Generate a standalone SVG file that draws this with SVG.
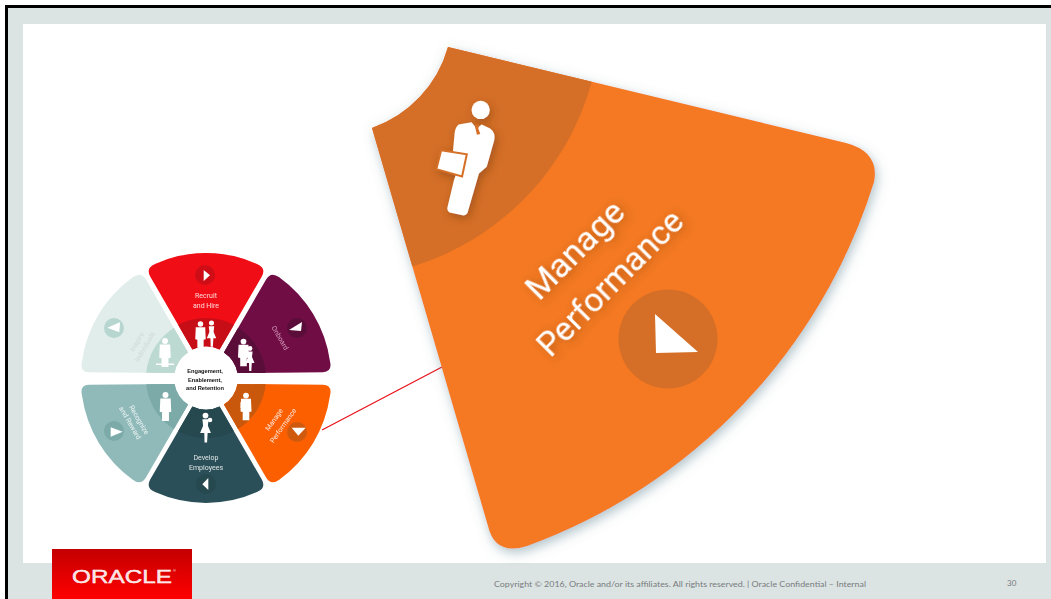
<svg xmlns="http://www.w3.org/2000/svg" width="1051" height="599" viewBox="0 0 1051 599">
<style>
.wt{font-family:Roboto,"Liberation Sans",sans-serif;fill:#fff;text-anchor:middle}
.sm{font-size:7px;fill-opacity:.85}
.ctr{font-family:"Liberation Sans",Arial,sans-serif;font-weight:700;font-size:5.7px;fill:#111;text-anchor:middle}
.big{font-size:34px;filter:url(#txs)}
.ft{font-family:Lato,"Liberation Sans",sans-serif;font-size:8px;fill:#777c7d}
.ic{fill:#fff}
</style>
<defs>
<linearGradient id="lg" x1="0" y1="0" x2="0" y2="1"><stop offset="0" stop-color="#c40000"/><stop offset="1" stop-color="#ff0000"/></linearGradient>
<filter id="sh" x="-10%" y="-10%" width="125%" height="125%"><feDropShadow dx="2" dy="4" stdDeviation="6" flood-color="#5f8592" flood-opacity=".5"/></filter>
<filter id="txs" x="-20%" y="-60%" width="140%" height="240%"><feDropShadow dx="2" dy="3" stdDeviation="4" flood-color="#7a3a08" flood-opacity=".5"/></filter>
<filter id="ics" x="-40%" y="-40%" width="190%" height="190%"><feDropShadow dx="2" dy="3" stdDeviation="5" flood-color="#6d3608" flood-opacity=".5"/></filter>
<filter id="soft" x="-5%" y="-5%" width="110%" height="110%"><feGaussianBlur stdDeviation=".55"/></filter>
<path id="w" d="M-13.600,-28.500 L-55.800,-101.600 Q-60.500,-110 -51,-114 A125 125 0 0 1 51,-114 Q60.500,-110 55.800,-101.600 L13.600,-28.500 A31.500 31.500 0 0 0 -13.600,-28.500Z"/>
<path id="ws" d="M-13.600,-28.500 L-55.800,-101.600 Q-60.500,-110 -51,-114 A125 125 0 0 1 47,-116 Q57.500,-113 53,-104.500 L11,-30 A31.500 31.500 0 0 0 -13.600,-28.500Z"/>
<clipPath id="wc"><use href="#w"/></clipPath>
<clipPath id="wsc"><use href="#ws"/></clipPath>
<g id="band"><circle r="60" clip-path="url(#wc)"/></g>
<g id="bands"><circle r="60" clip-path="url(#wsc)"/></g>
<g id="man" class="ic"><circle cy="-9.5" r="2.6"/><path d="M-4.5,-6.5 L4.5,-6.5 L5,5 L3,5.5 L3,13 L-3,13 L-3,5.5 L-5,5Z"/></g>
<g id="woman" class="ic"><circle cy="-9.5" r="2.4"/><path d="M-2.6,-6.5 L2.6,-6.5 L2,-1 L4.5,5 L1.8,5 L1.3,13 L-.8,13 L-1,5 L-4.5,5 L-2,-1Z"/></g>
<clipPath id="bigc"><path d="M448,47 L846,143 Q880,152 874,182 A567 567 0 0 1 527,546 Q495,556 488,526 L372,128 A120 120 0 0 0 448,47Z"/></clipPath>
</defs>
<g id="background">
<rect width="1051" height="599" fill="#fff"/>
<rect x="6" y="6" width="1045" height="593" fill="#dce3e3"/>
<path d="M6.500,599 V6.500 H1051" fill="none" stroke="#000" stroke-width="3"/>
<rect x="23" y="24" width="1023" height="539" fill="#fff"/>
</g>
<g id="connectors"><line x1="322" y1="430" x2="442" y2="367" stroke="#e8141c" stroke-width="1.300"/></g>
<g id="wheel" filter="url(#soft)">
<g id="seg-recruit" transform="translate(206,378)"><use href="#w" fill="#f00a12"/><use href="#band" fill="#c70d16"/></g>
<g id="seg-onboard" transform="translate(206,378.500) rotate(60)"><use href="#ws" fill="#6f0a45"/><use href="#bands" fill="#5a0a38"/></g>
<g id="seg-manage" transform="translate(206,378.500) rotate(120) scale(-1,1)"><use href="#ws" fill="#fb5f05"/><use href="#bands" fill="#c9590f"/></g>
<g id="seg-develop" transform="translate(206,378) rotate(180)"><use href="#w" fill="#2b5058"/><use href="#band" fill="#264850"/></g>
<g id="seg-recognize" transform="translate(206,378.500) rotate(240)"><use href="#ws" fill="#8fbab9"/><use href="#bands" fill="#7caaa9"/></g>
<g id="seg-inspire" transform="translate(206,378.500) rotate(300) scale(-1,1)"><use href="#ws" fill="#e0edea"/><use href="#bands" fill="#bcd9d2"/></g>
<g id="buttons">
<circle cx="205" cy="275" r="10" fill="#cf0d16"/><path class="ic" d="M203.700,270 V281 L210,275.300Z"/>
<circle cx="297" cy="328" r="10" fill="#5a0a38"/><path class="ic" d="M289,330 L302,322 L301,331Z"/>
<circle cx="297" cy="432" r="10" fill="#cf5a10"/><path class="ic" d="M291.700,427.700 H305.700 L298.300,435.700Z"/>
<circle cx="206" cy="484" r="10" fill="#264850"/><path class="ic" d="M208.300,478 V490 L202.300,484.300Z"/>
<circle cx="114" cy="431" r="10" fill="#7caaa9"/><path class="ic" d="M110.700,427.300 V436.700 L122.700,431.700Z"/>
<circle cx="114" cy="328" r="10" fill="#b7d6d0"/><path class="ic" d="M107.300,327.700 L120,322.300 L119.300,332.300Z"/>
</g>
<g id="icons">
<use href="#man" transform="translate(200.500,334) scale(1.050)"/>
<use href="#woman" transform="translate(211.500,333) scale(1.050)"/>
<use href="#man" transform="translate(243.500,352) scale(1.100)"/>
<use href="#woman" transform="translate(250,358) scale(1)"/>
<use href="#man" transform="translate(246,406) scale(1.100)"/>
<rect x="240.500" y="402" width="5" height="6" fill="#fff"/>
<use href="#woman" transform="translate(205.500,427) scale(1.200)"/><circle cx="210" cy="420" r="2.300" fill="#fff"/>
<use href="#man" transform="translate(165.500,406) scale(1.150)"/>
<use href="#man" transform="translate(165,352) scale(1.150)"/><rect x="156" y="363.500" width="18" height="1.500" fill="#fff"/>
</g>
<g id="wheel-labels">
<text class="wt sm" x="206" y="298">Recruit</text><text class="wt sm" x="206" y="308">and Hire</text>
<text class="wt sm" style="fill:#e9b8cf" transform="translate(278,339) rotate(60)">Onboard</text>
<text class="wt sm" transform="translate(276,421) rotate(-55)">Manage</text><text class="wt sm" transform="translate(285,427) rotate(-55)">Performance</text>
<text class="wt sm" x="206" y="460">Develop</text><text class="wt sm" x="206" y="470">Employees</text>
<text class="wt sm" transform="translate(137,421) rotate(60)">Recognize</text><text class="wt sm" transform="translate(128,424) rotate(60)">and Reward</text>
<text class="wt sm" style="fill:#cdd6d3" transform="translate(139,343) rotate(-60)">Inspire</text><text class="wt sm" style="fill:#cdd6d3" transform="translate(147,348) rotate(-60)">Individuals</text>
<text class="ctr" x="205" y="373">Engagement,</text><text class="ctr" x="205" y="381.500">Enablement,</text><text class="ctr" x="205" y="390">and Retention</text>
</g>
</g>
<g id="manage-performance">
<path filter="url(#sh)" fill="#f47920" d="M448,47 L846,143 Q880,152 874,182 A567 567 0 0 1 527,546 Q495,556 488,526 L372,128 A120 120 0 0 0 448,47Z"/>
<circle cx="335" cy="12" r="266" fill="#d56f27" clip-path="url(#bigc)"/>
<g filter="url(#ics)"><g transform="translate(360,40) scale(.338)">
<circle cx="357" cy="207" r="27" fill="#fff"/>
<path fill="#fff" d="M292,250 L330,243 L345,262 L360,250 L385,262 Q402,275 397,297 L375,375 L352,395 L318,512 Q312,522 300,518 L265,510 Q255,505 260,490 L278,415 L285,395 L275,330 L280,275 Q282,258 292,250Z"/>
<path fill="#d56f27" d="M339,250 H352 L350,262 L356,278 L346,280 L342,264Z"/>
<path fill="#fff" stroke="#d56f27" stroke-width="6" d="M240,326 L316,338 L302,404 L226,382Z"/>
</g></g>
<text class="wt big" transform="translate(583,258) rotate(-45)" textLength="124" lengthAdjust="spacingAndGlyphs">Manage</text>
<text class="wt big" transform="translate(618,291) rotate(-45)" textLength="191" lengthAdjust="spacingAndGlyphs">Performance</text>
<circle cx="668" cy="339" r="49.500" fill="#d56f27"/>
<path class="ic" d="M655,314 L656,353 L698,352Z"/>
</g>
<g id="footer">
<rect x="52" y="549" width="140" height="50" fill="url(#lg)"/>
<text x="72" y="583" font-family="Liberation Sans,Arial,sans-serif" font-size="19" fill="#fff" fill-opacity=".9" stroke="#fff" stroke-width=".4" textLength="100" lengthAdjust="spacingAndGlyphs">ORACLE</text>
<text x="173" y="572" font-family="Liberation Sans,Arial,sans-serif" font-size="4" fill="#fff">®</text>
<text class="ft" x="494" y="587" textLength="372" lengthAdjust="spacingAndGlyphs">Copyright © 2016, Oracle and/or its affiliates. All rights reserved.  |  Oracle Confidential – Internal</text>
<text class="ft" x="1007" y="586">30</text>
</g>
</svg>
